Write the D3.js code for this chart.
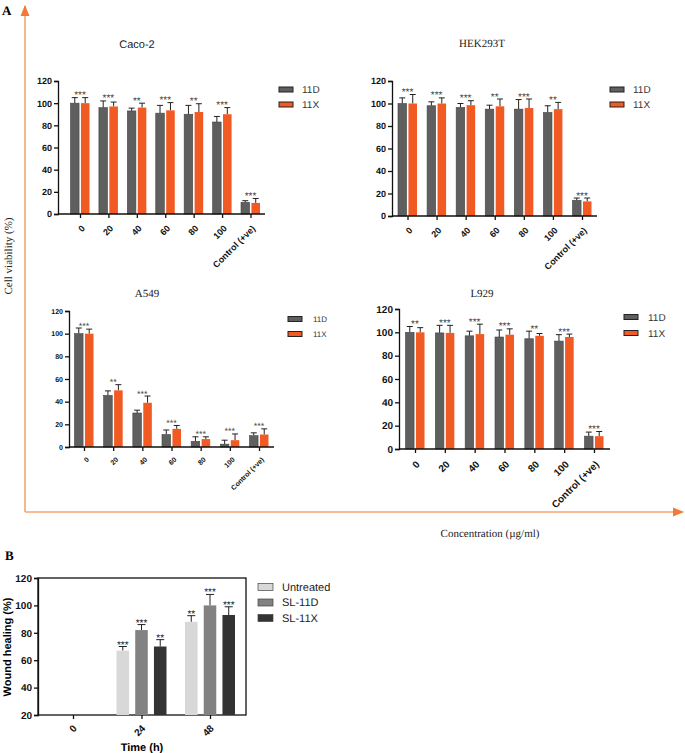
<!DOCTYPE html>
<html>
<head>
<meta charset="utf-8">
<script src="https://cdn.jsdelivr.net/npm/d3@7"></script>
<style>
  body { margin: 0; background: #fff; }
  svg { display: block; }
  text { text-rendering: geometricPrecision; }
  .axis path, .axis line { stroke: #111; stroke-width: 1.3; }
  .axis text { font-family: Arial, "Liberation Sans", sans-serif; font-weight: bold; fill: #111; }
</style>
</head>
<body>
<svg id="chart" width="685" height="753"></svg>
<script>
// ---- data ----
var concLabels = ["0", "20", "40", "60", "80", "100", "Control (+ve)"];
var seriesA = ["11D", "11X"];

var caco11D    = [100, 96, 93, 91, 90, 83, 10.5];
var caco11DErr = [5, 6, 2.5, 7, 8, 5, 1.5];
var caco11X    = [100, 97, 96, 93.5, 92, 90, 10];
var caco11XErr = [5, 4, 4, 7, 7.5, 6, 4];
var cacoStars  = ["***", "***", "**", "***", "**", "***", "***"];

var hek11D    = [100, 98, 96.5, 95, 95, 92, 14];
var hek11DErr = [5, 3.5, 3.5, 3.5, 8.5, 6, 2];
var hek11X    = [100, 100, 98.5, 97.5, 96, 95, 13];
var hek11XErr = [8, 5, 4, 6.5, 8, 6, 3];
var hekStars  = ["***", "***", "***", "**", "***", "**", "***"];

var a549_11D    = [100, 45.5, 30, 11, 5, 2.5, 10];
var a549_11DErr = [5, 4, 2.5, 4, 4, 3.5, 2.5];
var a549_11X    = [100, 50, 39, 16, 7, 6, 11];
var a549_11XErr = [4, 5, 6, 3, 2, 5.5, 5];
var a549Stars   = ["***", "**", "***", "***", "***", "***", "***"];

var l929_11D    = [100, 99.5, 97, 96, 94.5, 92.5, 11];
var l929_11DErr = [5, 6.5, 4, 6, 6.5, 5.5, 3.5];
var l929_11X    = [100, 99.5, 98.5, 98, 97, 96, 11];
var l929_11XErr = [4, 6.5, 8.5, 5, 2, 2.5, 4];
var l929Stars   = ["**", "***", "***", "***", "**", "***", "***"];

var timeLabels = ["0", "24", "48"];
var seriesB = ["Untreated", "SL-11D", "SL-11X"];
var woundUntreated    = [null, 67, 88];
var woundUntreatedErr = [null, 3, 4.5];
var woundSL11D        = [null, 82, 100];
var woundSL11DErr     = [null, 4, 8];
var woundSL11X        = [null, 70, 93];
var woundSL11XErr     = [null, 5, 6];
var woundStars = [[null, null, null], ["***", "***", "**"], ["**", "***", "***"]];

// ---- drawing ----
var svg = d3.select("#chart");
var colA = { "11D": "#5f5f5f", "11X": "#f15a22" };
var colB = { "Untreated": "#d8d8d8", "SL-11D": "#828282", "SL-11X": "#333333" };
var orange = "#f5a473";
var serifFont = "'Liberation Serif', 'Times New Roman', serif";

// frame arrows for panel A
var defs = svg.append("defs");
defs.append("marker").attr("id", "arr")
  .attr("viewBox", "0 0 10 10").attr("refX", 9).attr("refY", 5)
  .attr("markerWidth", 7).attr("markerHeight", 7).attr("orient", "auto")
  .append("path").attr("d", "M0,1L10,5L0,9Z").attr("fill", "#f07a36");

svg.append("line").attr("x1", 25).attr("y1", 512).attr("x2", 25).attr("y2", 6)
  .attr("stroke", orange).attr("stroke-width", 1.6).attr("marker-end", "url(#arr)");
svg.append("line").attr("x1", 25).attr("y1", 512).attr("x2", 683).attr("y2", 512)
  .attr("stroke", orange).attr("stroke-width", 1.6).attr("marker-end", "url(#arr)");

svg.append("text").attr("x", 2).attr("y", 15).text("A")
  .style("font-family", serifFont).style("font-weight", "bold").style("font-size", "13px");
svg.append("text").attr("x", 5).attr("y", 560).text("B")
  .style("font-family", serifFont).style("font-weight", "bold").style("font-size", "13px");

svg.append("text").attr("transform", "translate(12,256) rotate(-90)")
  .attr("text-anchor", "middle").text("Cell viability (%)")
  .style("font-family", serifFont).style("font-size", "11px").style("fill", "#222");
svg.append("text").attr("x", 490).attr("y", 537).attr("text-anchor", "middle")
  .text("Concentration (\u00b5g/ml)")
  .style("font-family", serifFont).style("font-size", "11px").style("fill", "#222");

function drawPanel(p) {
  var g = svg.append("g");
  var x = d3.scalePoint().domain(concLabels).range([p.left + p.padL, p.right - p.padR]);
  var y = d3.scaleLinear().domain([0, 120]).range([p.bottom, p.top]);
  var inner = d3.scaleBand().domain(seriesA).range([-9.5, 9.5]).paddingInner(0.18);

  var rows = concLabels.map(function (c, i) {
    return { c: c, stars: p.stars[i], vals: [
      { s: "11D", v: p.d[i], e: p.dErr[i] },
      { s: "11X", v: p.x[i], e: p.xErr[i] }] };
  });

  var grp = g.selectAll(".grp").data(rows).enter().append("g")
    .attr("transform", function (d) { return "translate(" + x(d.c) + ",0)"; });

  var cx = function (d) { return inner(d.s) + inner.bandwidth() / 2; };
  grp.selectAll("line.err").data(function (d) { return d.vals; }).enter().append("line")
    .attr("x1", cx).attr("x2", cx)
    .attr("y1", function (d) { return y(d.v); })
    .attr("y2", function (d) { return y(d.v + d.e); })
    .attr("stroke", "#222").attr("stroke-width", 1);
  grp.selectAll("line.cap").data(function (d) { return d.vals; }).enter().append("line")
    .attr("x1", function (d) { return cx(d) - 3; })
    .attr("x2", function (d) { return cx(d) + 3; })
    .attr("y1", function (d) { return y(d.v + d.e); })
    .attr("y2", function (d) { return y(d.v + d.e); })
    .attr("stroke", "#222").attr("stroke-width", 1);

  grp.selectAll("rect").data(function (d) { return d.vals; }).enter().append("rect")
    .attr("x", function (d) { return inner(d.s); })
    .attr("width", inner.bandwidth())
    .attr("y", function (d) { return y(d.v); })
    .attr("height", function (d) { return y(0) - y(d.v); })
    .attr("fill", function (d) { return colA[d.s]; })
    .attr("stroke", function (d) { return d.s === "11D" ? "#444" : "none"; })
    .attr("stroke-width", 0.6);

  grp.append("text")
    .attr("y", function (d) { return y(d3.max(d.vals, function (v) { return v.v + v.e; })) + 0.5; })
    .attr("text-anchor", "middle").text(function (d) { return d.stars; })
    .style("font-family", "Arial, sans-serif").style("font-size", p.starSize + "px").style("fill", "#444");

  var ya = g.append("g").attr("class", "axis")
    .attr("transform", "translate(" + p.left + ",0)")
    .call(d3.axisLeft(y).tickValues(d3.range(0, 121, 20)).tickSize(4).tickPadding(2));
  ya.selectAll("text").style("font-size", p.tickSize + "px");

  var xa = g.append("g").attr("class", "axis")
    .attr("transform", "translate(0," + p.bottom + ")")
    .call(d3.axisBottom(x).tickSize(4).tickSizeOuter(0));
  xa.select(".domain").attr("d", "M" + p.left + ",0H" + p.right);
  xa.selectAll("text")
    .attr("text-anchor", "end").attr("dy", 0).attr("y", 0)
    .attr("transform", "translate(5," + (p.tickSize + 6) + ") rotate(-45)")
    .style("font-size", p.tickSize + "px");

  g.append("text").attr("x", p.titleX).attr("y", p.titleY).attr("text-anchor", "middle")
    .text(p.title)
    .style("font-family", p.titleFont).style("font-size", p.titleSize + "px").style("fill", "#222");

  var lg = g.selectAll(".lg").data(seriesA).enter().append("g")
    .attr("transform", function (d, i) { return "translate(" + p.legX + "," + (p.legY + i * p.legGap) + ")"; });
  lg.append("rect").attr("x", 0).attr("y", -2.5).attr("width", 14).attr("height", 5)
    .attr("fill", function (d) { return colA[d]; }).attr("stroke", "#222").attr("stroke-width", 1);
  lg.append("text").attr("x", p.legText).attr("dy", "0.35em").text(function (d) { return d; })
    .style("font-family", "Arial, sans-serif").style("font-size", p.legSize + "px").style("fill", "#333");
}

drawPanel({ title: "Caco-2", titleX: 137, titleY: 48, titleFont: "Arial, sans-serif", titleSize: 11,
  left: 58, right: 265, padL: 22, padR: 14.5, top: 81, bottom: 214, tickSize: 9, starSize: 10,
  legX: 279, legY: 89.5, legGap: 15, legText: 23, legSize: 10,
  d: caco11D, dErr: caco11DErr, x: caco11X, xErr: caco11XErr, stars: cacoStars });
drawPanel({ title: "HEK293T", titleX: 482, titleY: 47, titleFont: serifFont, titleSize: 11,
  left: 392, right: 597, padL: 15.5, padR: 15, top: 81, bottom: 216, tickSize: 9, starSize: 10,
  legX: 610, legY: 89.5, legGap: 15, legText: 23, legSize: 10,
  d: hek11D, dErr: hek11DErr, x: hek11X, xErr: hek11XErr, stars: hekStars });
drawPanel({ title: "A549", titleX: 147, titleY: 297, titleFont: serifFont, titleSize: 11,
  left: 69, right: 274, padL: 15, padR: 15, top: 311, bottom: 447, tickSize: 7, starSize: 9,
  legX: 288, legY: 319, legGap: 15, legText: 25, legSize: 8,
  d: a549_11D, dErr: a549_11DErr, x: a549_11X, xErr: a549_11XErr, stars: a549Stars });
drawPanel({ title: "L929", titleX: 482, titleY: 297, titleFont: serifFont, titleSize: 11,
  left: 399, right: 610, padL: 16, padR: 16, top: 309, bottom: 449, tickSize: 10, starSize: 10,
  legX: 624, legY: 317, legGap: 16, legText: 24, legSize: 10,
  d: l929_11D, dErr: l929_11DErr, x: l929_11X, xErr: l929_11XErr, stars: l929Stars });

// ---- panel B ----
(function () {
  var left = 38, right = 246, top = 578, bottom = 715;
  var g = svg.append("g");
  var x = d3.scalePoint().domain(timeLabels).range([73, 210]);
  var y = d3.scaleLinear().domain([20, 120]).range([bottom, top]);
  var inner = d3.scaleBand().domain(seriesB).range([-25, 25]).paddingInner(0.33);
  var vals = [woundUntreated, woundSL11D, woundSL11X];
  var errs = [woundUntreatedErr, woundSL11DErr, woundSL11XErr];

  var rows = timeLabels.map(function (t, i) {
    return { t: t, vals: seriesB.map(function (s, j) {
      return { s: s, v: vals[j][i], e: errs[j][i], star: woundStars[i][j] }; }).filter(function (d) { return d.v != null; }) };
  });

  g.append("rect").attr("x", left).attr("y", top).attr("width", right - left).attr("height", bottom - top)
    .attr("fill", "none").attr("stroke", "#111").attr("stroke-width", 1.3);

  var grp = g.selectAll(".grp").data(rows).enter().append("g")
    .attr("transform", function (d) { return "translate(" + x(d.t) + ",0)"; });
  var cx = function (d) { return inner(d.s) + inner.bandwidth() / 2; };
  grp.selectAll("line.err").data(function (d) { return d.vals; }).enter().append("line")
    .attr("x1", cx).attr("x2", cx)
    .attr("y1", function (d) { return y(d.v); }).attr("y2", function (d) { return y(d.v + d.e); })
    .attr("stroke", "#222").attr("stroke-width", 1);
  grp.selectAll("line.cap").data(function (d) { return d.vals; }).enter().append("line")
    .attr("x1", function (d) { return cx(d) - 4; }).attr("x2", function (d) { return cx(d) + 4; })
    .attr("y1", function (d) { return y(d.v + d.e); }).attr("y2", function (d) { return y(d.v + d.e); })
    .attr("stroke", "#222").attr("stroke-width", 1);
  grp.selectAll("rect").data(function (d) { return d.vals; }).enter().append("rect")
    .attr("x", function (d) { return inner(d.s); }).attr("width", inner.bandwidth())
    .attr("y", function (d) { return y(d.v); })
    .attr("height", function (d) { return bottom - y(d.v); })
    .attr("fill", function (d) { return colB[d.s]; });
  grp.selectAll("text.star").data(function (d) { return d.vals; }).enter().append("text")
    .attr("x", cx).attr("y", function (d) { return y(d.v + d.e) + 1; })
    .attr("text-anchor", "middle").text(function (d) { return d.star; })
    .style("font-family", "Arial, sans-serif").style("font-size", "10px").style("fill", "#222");

  var ya = g.append("g").attr("class", "axis").attr("transform", "translate(" + left + ",0)")
    .call(d3.axisLeft(y).tickValues(d3.range(20, 121, 20)).tickSize(4).tickPadding(2));
  ya.selectAll("text").style("font-size", "10px");
  var xa = g.append("g").attr("class", "axis").attr("transform", "translate(0," + bottom + ")")
    .call(d3.axisBottom(x).tickSize(4).tickSizeOuter(0));
  xa.select(".domain").remove();
  xa.selectAll("text").attr("text-anchor", "end").attr("dy", 0).attr("y", 0)
    .attr("transform", "translate(4,14) rotate(-45)").style("font-size", "10px");

  g.append("text").attr("x", 142).attr("y", 751).attr("text-anchor", "middle").text("Time (h)")
    .style("font-family", "Arial, sans-serif").style("font-weight", "bold").style("font-size", "11px");
  g.append("text").attr("transform", "translate(11,647) rotate(-90)").attr("text-anchor", "middle")
    .text("Wound healing (%)")
    .style("font-family", "Arial, sans-serif").style("font-weight", "bold").style("font-size", "11px");

  var lg = g.selectAll(".lg").data(seriesB).enter().append("g")
    .attr("transform", function (d, i) { return "translate(258," + (587 + i * 15.5) + ")"; });
  lg.append("rect").attr("y", -3.5).attr("width", 15).attr("height", 7)
    .attr("fill", function (d) { return colB[d]; }).attr("stroke", "#444").attr("stroke-width", 0.7);
  lg.append("text").attr("x", 24).attr("dy", "0.35em").text(function (d) { return d; })
    .style("font-family", "Arial, sans-serif").style("font-size", "11px").style("fill", "#222");
})();
</script>
</body>
</html>
